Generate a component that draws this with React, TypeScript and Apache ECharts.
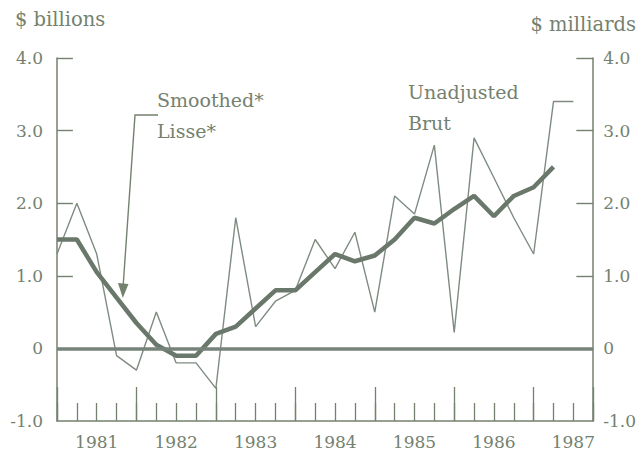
import React, { useEffect, useRef } from "react";
import * as echarts from "echarts";

// Quarterly values, 1981 Q1 = index 0
const yearLabels = ["1981", "1982", "1983", "1984", "1985", "1986", "1987"];
const unadjusted = [
  1.3, 2.0, 1.3, -0.1, -0.3, 0.5, -0.2, -0.2, -0.55, 1.8, 0.3, 0.65, 0.8, 1.5,
  1.1, 1.6, 0.5, 2.1, 1.85, 2.8, 0.22, 2.9, 2.35, 1.8, 1.3, 3.4, 3.4,
];
const smoothed = [
  1.5, 1.5, 1.05, 0.7, 0.35, 0.05, -0.1, -0.1, 0.2, 0.3, 0.55, 0.8, 0.8, 1.05,
  1.3, 1.2, 1.28, 1.5, 1.8, 1.72, 1.92, 2.1, 1.82, 2.1, 2.22, 2.5,
];
const yTickValues = [1, 2, 3, 4];
const leftUnit = "$ billions";
const rightUnit = "$ milliards";
const smoothLabel = ["Smoothed*", "Lisse*"];
const rawLabel = ["Unadjusted", "Brut"];

export default function App() {
  const ref = useRef<HTMLDivElement>(null);
  useEffect(() => {
    const chart = echarts.init(ref.current!, null, { renderer: "svg" });
    const ink = "#74816f";
    const thin = "#7f8b80";
    const thick = "#6a786c";
    const family = '"DejaVu Serif", serif';
    const yFmt = (v: number) => (v === 0 ? "0" : v.toFixed(1));
    const txt = (text: string, x: number, y: number, align = "left", size = 19) => ({
      type: "text",
      x,
      y,
      style: {
        text,
        fill: ink,
        font: `${size}px ${family}`,
        textAlign: align,
        textVerticalAlign: "middle",
      },
    });
    const yAxisBase = {
      type: "value",
      min: -1,
      max: 4,
      interval: 1,
      axisLine: { show: true, onZero: false, lineStyle: { color: ink, width: 1.5 } },
      axisTick: { show: false },
      splitLine: { show: false },
    };
    // inward y-axis ticks, drawn in data space (0.8 quarter ≈ 16 px)
    const tickSegments = [
      ...yTickValues.map((v) => [{ coord: [0, v] }, { coord: [0.8, v] }]),
      ...yTickValues.map((v) => [{ coord: [26.15, v] }, { coord: [27, v] }]),
    ];
    chart.setOption({
      animation: false,
      backgroundColor: "#ffffff",
      grid: { left: 57, right: 42, top: 58, bottom: 34 },
      xAxis: [
        {
          type: "value",
          min: 0,
          max: 27,
          interval: 1,
          position: "bottom",
          axisLine: { show: true, onZero: false, lineStyle: { color: ink, width: 1.5 } },
          axisTick: { show: true, inside: true, length: 18, lineStyle: { color: ink, width: 1.3 } },
          axisLabel: {
            formatter: (v: number) => ((v - 2) % 4 === 0 ? yearLabels[(v - 2) / 4] : ""),
            color: ink,
            fontFamily: family,
            fontSize: 17,
            margin: 12,
          },
          splitLine: { show: false },
        },
        {
          type: "value",
          min: 0,
          max: 27,
          interval: 4,
          position: "bottom",
          offset: 0,
          axisLine: { show: false, onZero: false },
          axisTick: { show: true, inside: true, length: 34, lineStyle: { color: ink, width: 1.3 } },
          axisLabel: { show: false },
          splitLine: { show: false },
        },
      ],
      yAxis: [
        {
          ...yAxisBase,
          position: "left",
          axisLabel: { formatter: yFmt, color: ink, fontFamily: family, fontSize: 17, margin: 14 },
        },
        {
          ...yAxisBase,
          position: "right",
          axisLabel: { formatter: yFmt, color: ink, fontFamily: family, fontSize: 17, margin: 10 },
        },
      ],
      series: [
        {
          type: "line",
          data: unadjusted.map((v, i) => [i, v]),
          showSymbol: false,
          lineStyle: { color: thin, width: 1.4 },
          z: 3,
          markLine: {
            silent: true,
            symbol: "none",
            label: { show: false },
            lineStyle: { color: "#76837a", width: 3.5, type: "solid" },
            data: [{ yAxis: 0 }],
          },
        },
        {
          type: "line",
          data: smoothed.map((v, i) => [i, v]),
          showSymbol: false,
          lineStyle: { color: thick, width: 4.5 },
          z: 4,
          markLine: {
            silent: true,
            symbol: "none",
            label: { show: false },
            lineStyle: { color: ink, width: 1.4, type: "solid" },
            data: tickSegments,
          },
        },
      ],
      graphic: [
        txt(leftUnit, 15, 19, "left", 19.5),
        txt(rightUnit, 636, 24, "right", 19.5),
        txt(smoothLabel[0], 157, 100),
        txt(smoothLabel[1], 157, 131),
        txt(rawLabel[0], 408, 92),
        txt(rawLabel[1], 408, 123),
        {
          type: "polyline",
          shape: { points: [[158, 115], [135, 115], [123, 288]] },
          style: { stroke: ink, lineWidth: 1.4, fill: "none" },
        },
        {
          type: "polygon",
          shape: { points: [[118, 283], [128.5, 284], [122.8, 298]] },
          style: { fill: ink },
        },
      ],
    });
    return () => chart.dispose();
  }, []);
  return (
    <div
      ref={ref}
      style={{ position: "fixed", left: 0, top: 0, width: 639, height: 455 }}
    />
  );
}
